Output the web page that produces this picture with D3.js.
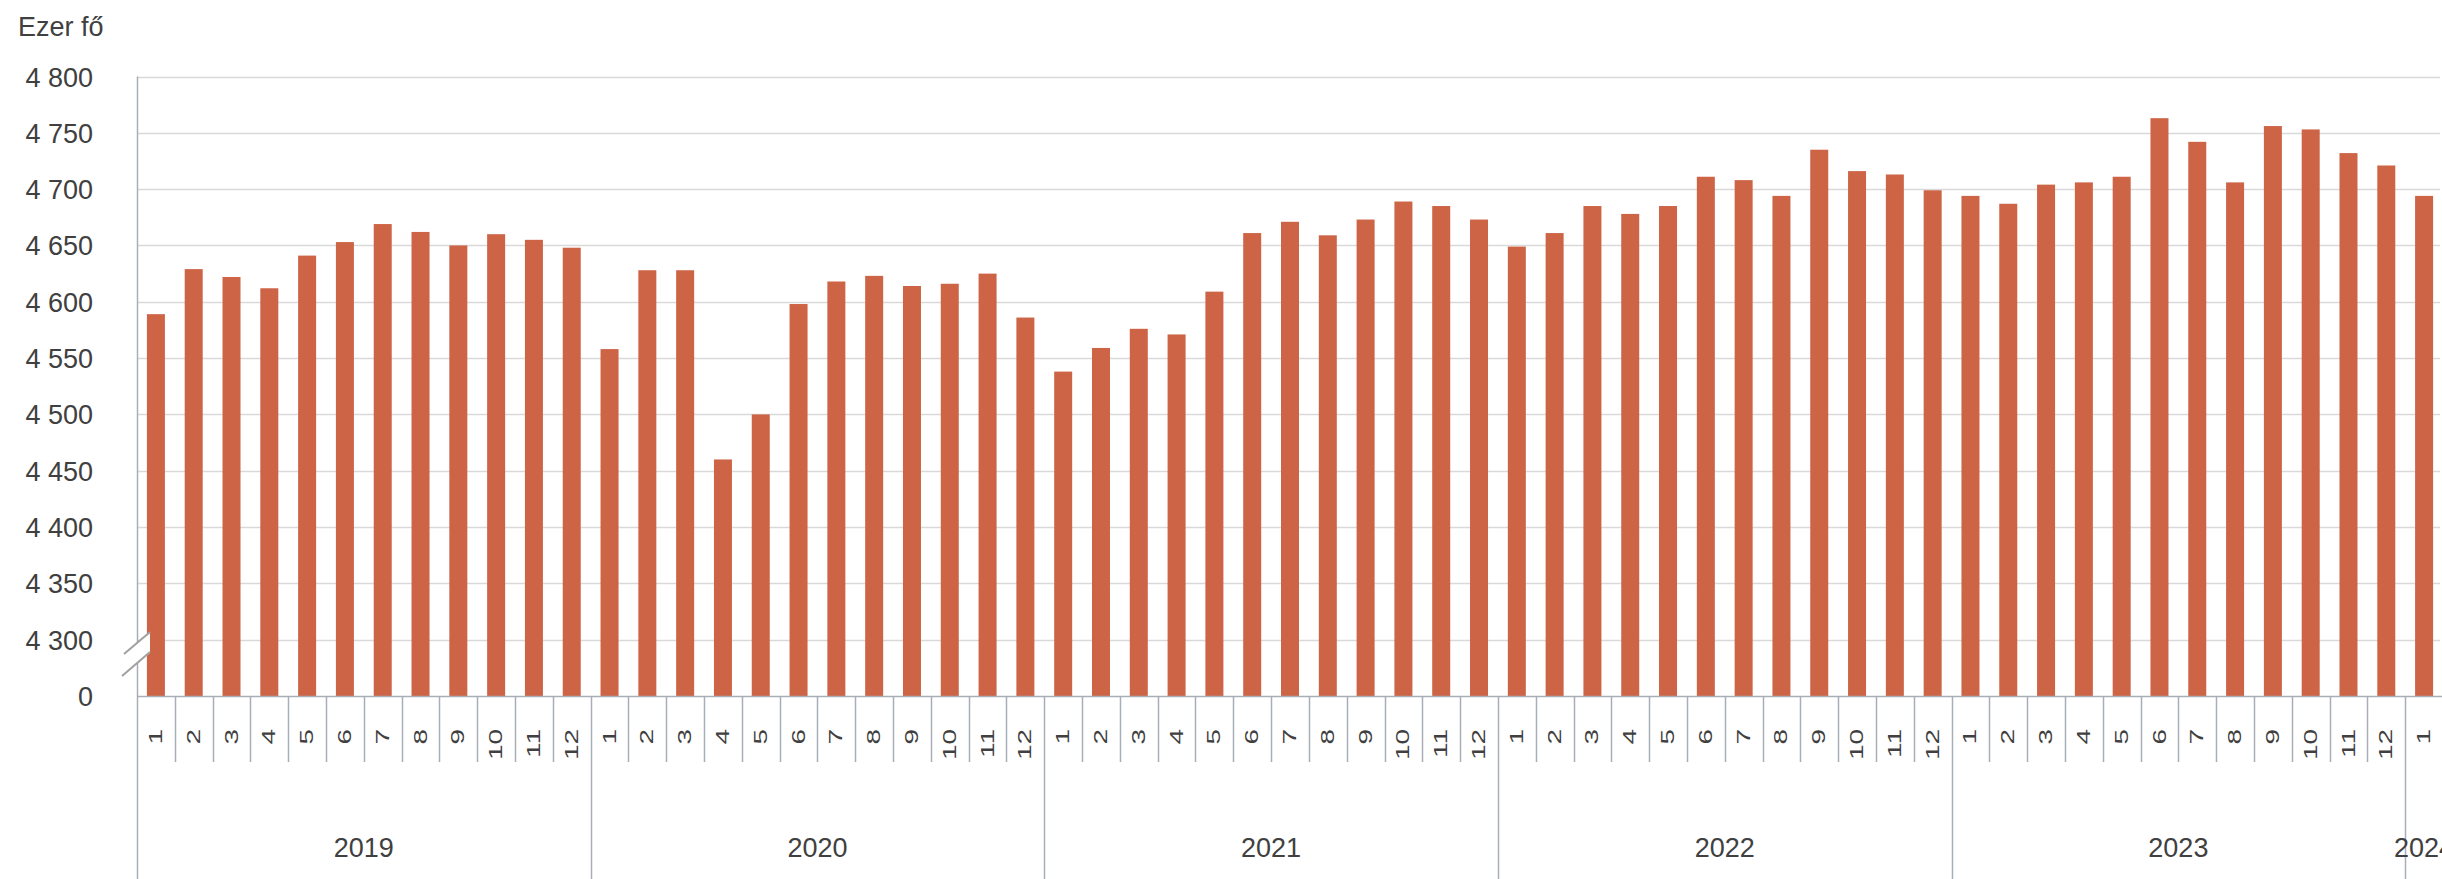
<!DOCTYPE html>
<html>
<head>
<meta charset="utf-8">
<script src="https://cdn.jsdelivr.net/npm/d3@7"></script>
<style>
  html, body { margin: 0; padding: 0; background: #fff; }
  svg { display: block; font-family: "Liberation Sans", Arial, sans-serif; }
</style>
</head>
<body>
<svg id="chart"></svg>
<script>
// monthly values, thousand persons
const years = ["2019", "2020", "2021", "2022", "2023", "2024"];
const values2019 = [4589, 4629, 4622, 4612, 4641, 4653, 4669, 4662, 4650, 4660, 4655, 4648];
const values2020 = [4558, 4628, 4628, 4460, 4500, 4598, 4618, 4623, 4614, 4616, 4625, 4586];
const values2021 = [4538, 4559, 4576, 4571, 4609, 4661, 4671, 4659, 4673, 4689, 4685, 4673];
const values2022 = [4649, 4661, 4685, 4678, 4685, 4711, 4708, 4694, 4735, 4716, 4713, 4699];
const values2023 = [4694, 4687, 4704, 4706, 4711, 4763, 4742, 4706, 4756, 4753, 4732, 4721];
const values2024 = [4694];
const yTicks = [4250, 4300, 4350, 4400, 4450, 4500, 4550, 4600, 4650, 4700, 4750, 4800];
const yUnit = "Ezer fő";

const W = 2442, H = 879;
const textColor = "#404040";
const barColor = "#cd6446";
const gridColor = "#d9d9d9";
const axisColor = "#a7aeb8";

// flatten into one row per month
const series = [values2019, values2020, values2021, values2022, values2023, values2024];
const data = [];
series.forEach((vals, yi) => {
  vals.forEach((v, mi) => {
    data.push({i: data.length, year: years[yi], month: mi + 1, value: v});
  });
});

const svg = d3.select("#chart").attr("width", W).attr("height", H);
svg.append("rect").attr("width", W).attr("height", H).attr("fill", "#fff");

const x = d3.scaleBand()
  .domain(data.map(d => d.i))
  .range([137, 2443])
  .padding(0);
const step = x.bandwidth();
const barW = 18;

// the bottom tick (4250) stands for 0 on the broken axis
const y = d3.scaleLinear().domain([4250, 4800]).range([696, 76.5]);

const fmt = v => v === 4250 ? "0" : d3.format(",")(v).replace(",", " ");

// gridlines
svg.append("g")
  .selectAll("line")
  .data(yTicks.filter(v => v > 4250))
  .enter().append("line")
  .attr("x1", 137).attr("x2", 2440)
  .attr("y1", v => Math.round(y(v)) + 0.5)
  .attr("y2", v => Math.round(y(v)) + 0.5)
  .attr("stroke", gridColor)
  .attr("stroke-width", 1.5);

// y labels
svg.append("g")
  .selectAll("text")
  .data(yTicks)
  .enter().append("text")
  .attr("x", 93)
  .attr("y", v => y(v) + 1)
  .attr("text-anchor", "end")
  .attr("dominant-baseline", "central")
  .attr("font-size", 27)
  .attr("fill", textColor)
  .text(fmt);

svg.append("text")
  .attr("x", 18).attr("y", 36)
  .attr("font-size", 27)
  .attr("fill", textColor)
  .text(yUnit);

// bars
svg.append("g")
  .selectAll("rect")
  .data(data)
  .enter().append("rect")
  .attr("x", d => x(d.i) + (step - barW) / 2)
  .attr("width", barW)
  .attr("y", d => y(d.value))
  .attr("height", d => y(4250) - y(d.value))
  .attr("fill", barColor);

// axis lines
svg.append("line")
  .attr("x1", 137.5).attr("x2", 137.5)
  .attr("y1", y(4800)).attr("y2", H)
  .attr("stroke", axisColor).attr("stroke-width", 1.5);
svg.append("line")
  .attr("x1", 137).attr("x2", 2442)
  .attr("y1", y(4250) + 0.5).attr("y2", y(4250) + 0.5)
  .attr("stroke", axisColor).attr("stroke-width", 1.5);

// axis break marks
const brk = svg.append("g");
brk.append("polygon")
  .attr("points", "150,633 124,654 124,674 150,653")
  .attr("fill", "#fff");
[[150, 632, 124, 654], [150, 652, 122, 676]].forEach(p => {
  brk.append("line")
    .attr("x1", p[0]).attr("y1", p[1]).attr("x2", p[2]).attr("y2", p[3])
    .attr("stroke", "#a0a0a0").attr("stroke-width", 2);
});

// month separators and year separators
const bounds = d3.range(1, data.length);
svg.append("g")
  .selectAll("line")
  .data(bounds)
  .enter().append("line")
  .attr("x1", i => Math.round(x(i)) + 0.5)
  .attr("x2", i => Math.round(x(i)) + 0.5)
  .attr("y1", y(4250))
  .attr("y2", i => data[i].month === 1 ? H : 762)
  .attr("stroke", axisColor)
  .attr("stroke-width", 1.5);

// month labels, rotated
svg.append("g")
  .selectAll("text")
  .data(data)
  .enter().append("text")
  .attr("transform", d => "translate(" + (x(d.i) + step / 2) + ",729) rotate(-90) scale(1.27,0.8)")
  .attr("text-anchor", "end")
  .attr("dominant-baseline", "central")
  .attr("font-size", 22)
  .attr("fill", textColor)
  .text(d => d.month);

// year labels
svg.append("g")
  .selectAll("text")
  .data(years)
  .enter().append("text")
  .attr("x", yr => {
    const ds = data.filter(d => d.year === yr);
    return (x(ds[0].i) + x(ds[ds.length - 1].i) + step) / 2;
  })
  .attr("y", 857)
  .attr("text-anchor", "middle")
  .attr("font-size", 27)
  .attr("fill", textColor)
  .text(yr => yr);
</script>
</body>
</html>
